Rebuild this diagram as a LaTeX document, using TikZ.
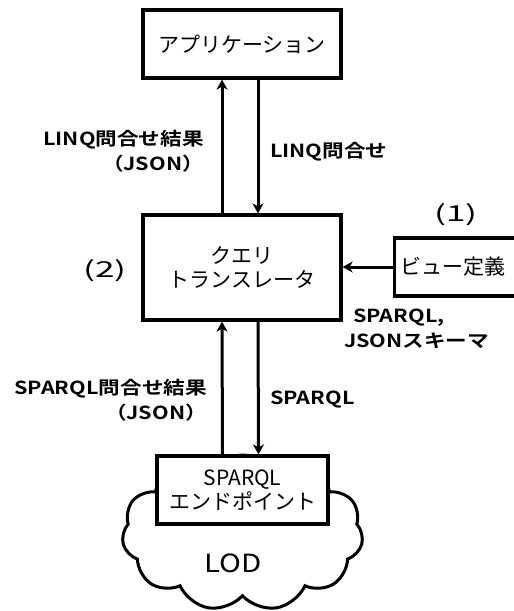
\documentclass[tikz,border=0pt]{standalone}
\usepackage{fontspec}
\setmainfont{Noto Sans CJK JP}
\newfontfamily\lblfont[FakeStretch=1.2]{Noto Sans CJK JP Bold}
\newfontfamily\widefont[FakeStretch=1.6]{Noto Sans CJK JP}
\newfontfamily\lodfont[FakeStretch=1.18]{Noto Sans CJK JP}
\usetikzlibrary{arrows.meta,shapes.symbols}
\begin{document}
\begin{tikzpicture}[x=1pt,y=-1pt,
  box/.style={draw,line width=3.2pt,fill=white,align=center,inner sep=0pt,font=\fontsize{21}{24}\selectfont},
  lbl/.style={font=\lblfont\fontsize{18}{25}\selectfont,inner sep=0pt},
  arr/.style={line width=3pt,-{Stealth[length=10pt,width=11pt,inset=3pt]}},
  num/.style={font=\widefont\fontsize{22}{26}\selectfont,inner sep=0pt}]
\useasboundingbox (0,0) rectangle (514,611);
\node[cloud,draw,line width=3pt,fill=white,cloud puffs=11,cloud puff arc=115,aspect=1.6,minimum width=241,minimum height=156] (lod) at (242.5,533) {};
\node[box,minimum width=198,minimum height=68] (app) at (242,44) {アプリケーション};
\node[box,minimum width=198,minimum height=105] (qt) at (242,267.5) {クエリ\\トランスレータ};
\node[box,minimum width=125,minimum height=58,anchor=west] (view) at (393,267) {\hspace*{-8pt}ビュー定義};
\node[box,minimum width=171,minimum height=68] (ep) at (242.5,490) {SPARQL\\エンドポイント};
\node[font=\lodfont\fontsize{25}{26}\selectfont,inner sep=0pt] (lodtxt) at (233,563) {LOD};
\draw[arr] ([xshift=-20pt]qt.north) -- ([xshift=-20pt]app.south);
\draw[arr] ([xshift=16pt]app.south) -- ([xshift=16pt]qt.north);
\draw[arr] (view.west) -- (qt.east |- view.west);
\draw[arr] ([xshift=-20pt]ep.north) -- ([xshift=-20pt]qt.south);
\draw[arr] ([xshift=16pt]qt.south) -- ([xshift=16pt]ep.north);
\node[lbl,align=right,anchor=east] (l1) at (204,151) {LINQ問合せ結果\\（JSON）};
\node[lbl,anchor=west] (l2) at (270,152) {LINQ問合せ};
\node[lbl,align=left,anchor=west] (l3) at (344,329) {\hspace*{9pt}SPARQL,\\JSONスキーマ};
\node[lbl,align=right,anchor=east] (l4) at (207,400) {SPARQL問合せ結果\\（JSON）};
\node[lbl,anchor=west] (l5) at (270,400) {SPARQL};
\node[num] (n1) at (456,215) {(1)};
\node[num] (n2) at (105,271) {(2)};
\end{tikzpicture}
\end{document}
